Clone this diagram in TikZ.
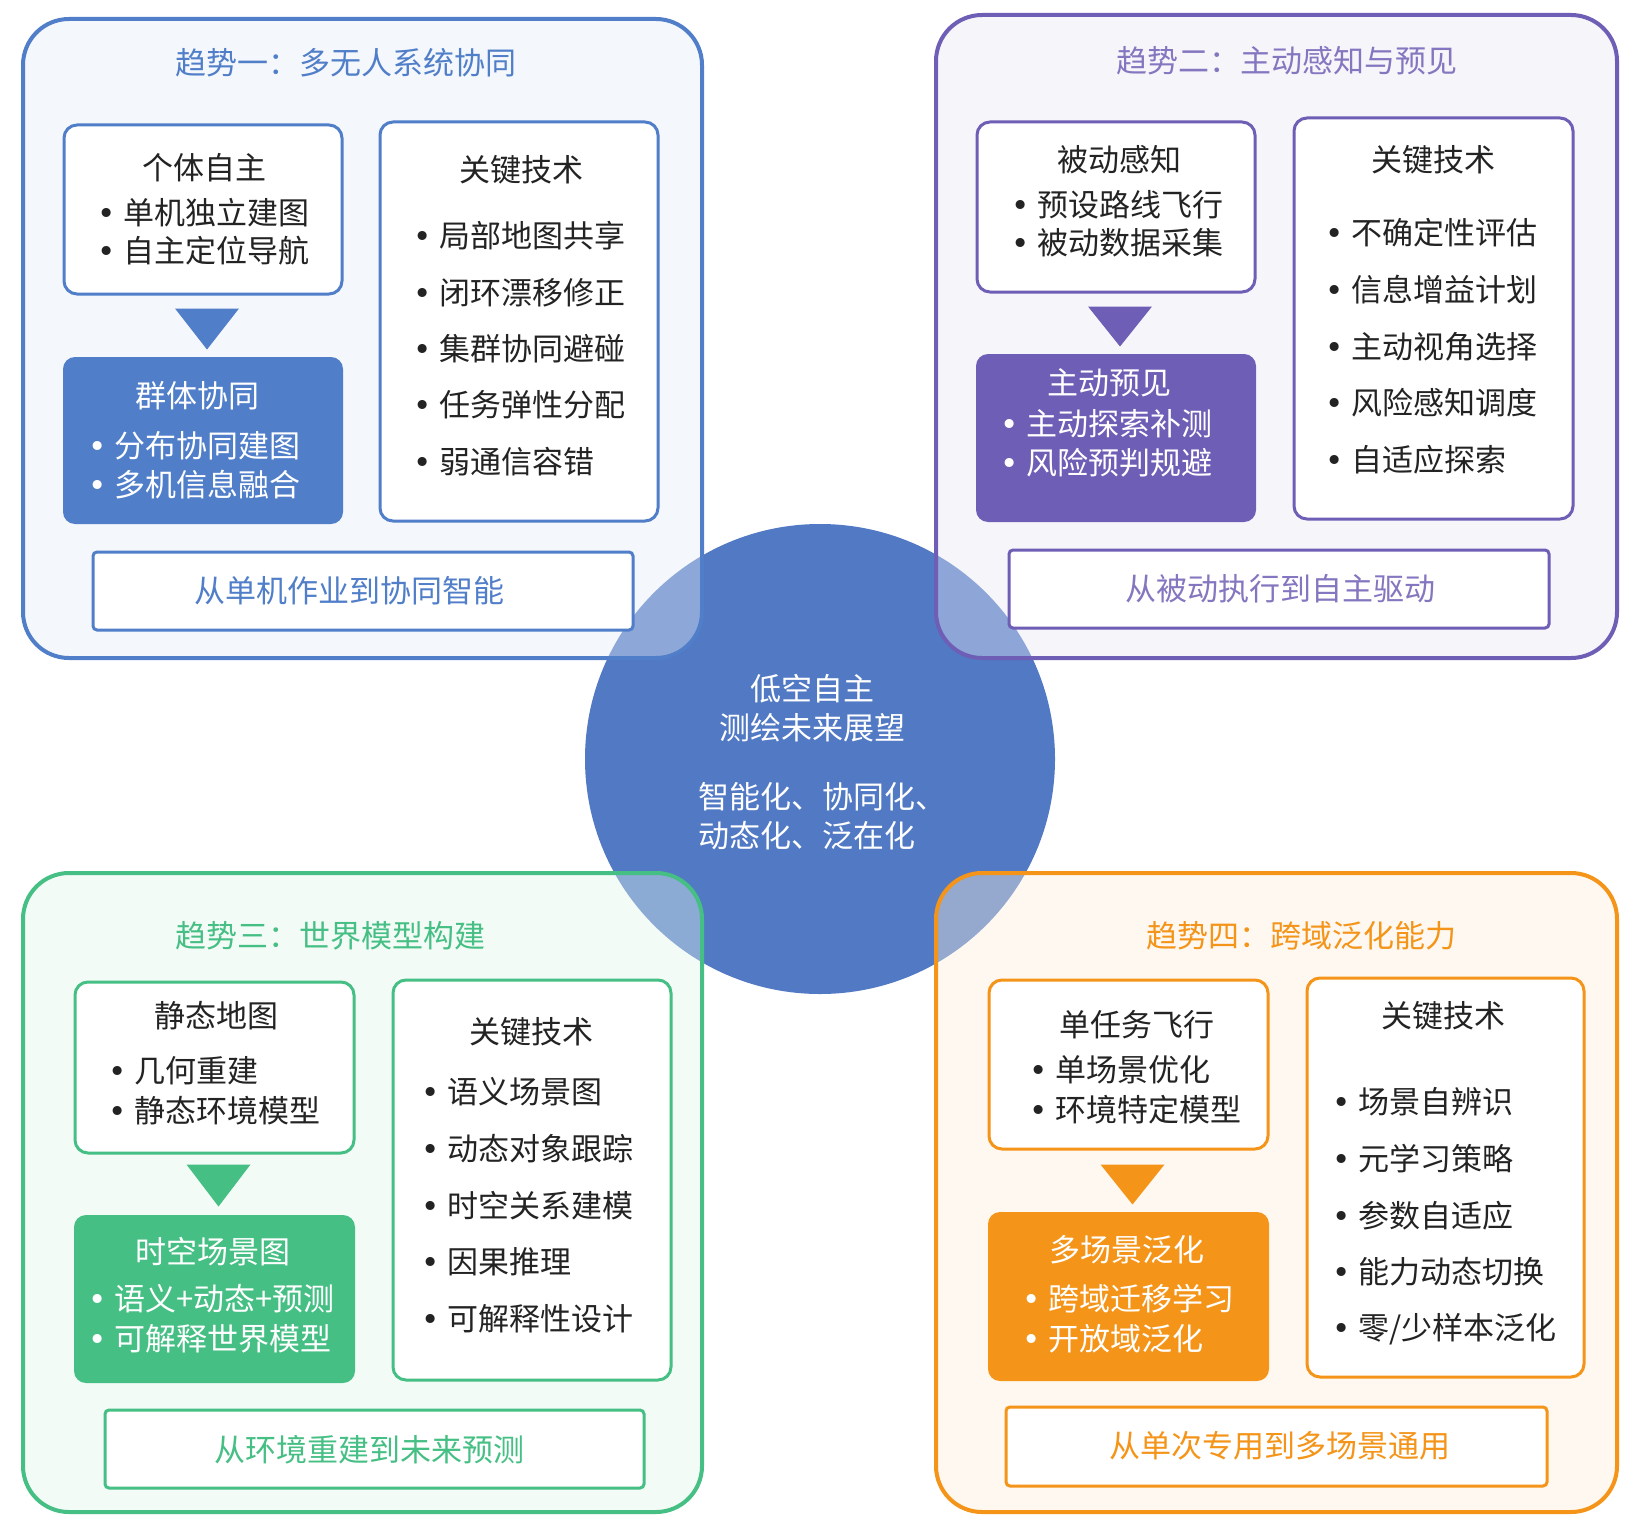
\documentclass[tikz,border=0pt]{standalone}
\usepackage{fontspec}
\setmainfont{Noto Sans CJK SC}
\newfontfamily\dotfont{DejaVu Sans}
\usepackage{xcolor}
\usepackage{tikz}
\usetikzlibrary{positioning, calc, fit}
\definecolor{trendblue}{RGB}{80,126,201}
\definecolor{trendpurple}{RGB}{111,94,181}
\definecolor{trendgreen}{RGB}{70,191,132}
\definecolor{trendorange}{RGB}{244,148,24}
\definecolor{hubblue}{RGB}{81,121,196}
\definecolor{inktext}{RGB}{35,35,35}
\tikzset{panel/.style={
    draw=#1,
    line width=4pt,
    rounded corners=46pt,
    fill=#1!15,
    fill opacity=0.4,
    inner sep=0pt
}}
\tikzset{lightbox/.style={
    draw=#1,
    line width=3pt,
    rounded corners=13pt,
    fill=white,
    inner sep=0pt
}}
\tikzset{darkbox/.style={
    fill=#1,
    rounded corners=12pt,
    inner sep=0pt
}}
\tikzset{words/.style={
    inner sep=0pt,
    text=inktext,
    font=\fontsize{31}{39}\selectfont
}}
\tikzset{item/.style={words, anchor=west}}
\newcommand{\itemdot}{\makebox[0pt]{\dotfont •}\hspace{17pt}}

\begin{document}
\begin{tikzpicture}[x=1pt, y=-1pt]
    \useasboundingbox (0,0) rectangle (1643,1538);
    \fill[white] (0,0) rectangle (1643,1538);
    % centre circle, under the four panels
    \node (hub) [circle, fill=hubblue, minimum size=470pt, inner sep=0pt] at (820,759) {};

    % trend one
    \node (P1) [panel=trendblue, fit={(23,19) (702,658)}] {};
    \node (T1) [words, text=trendblue] at (346,63) {趋势一：多无人系统协同};
    \node (A1) [lightbox=trendblue, fit={(64,125) (342,294)}] {};
    \node (A1h) [words] at (204,168) {个体自主};
    \foreach \t [count=\i] in {单机独立建图, 自主定位导航}
        \node (A1x\i) [item] at (106,{213+38*(\i-1)}) {\itemdot\t};
    \node (B1) [darkbox=trendblue, fit={(63,357) (343,524)}] {};
    \node (B1h) [words, text=white] at (197,396) {群体协同};
    \foreach \t [count=\i] in {分布协同建图, 多机信息融合}
        \node (B1x\i) [item, text=white] at (97,{446+39*(\i-1)}) {\itemdot\t};
    \fill[trendblue] ($(A1.south)+(-28,13)$) -- ++(64,0) -- ++(-32,41) -- cycle;
    \node (K1) [lightbox=trendblue, fit={(380,122) (658,521)}] {};
    \node (K1h) [words] at (521,170) {关键技术};
    \foreach \t [count=\i] in {局部地图共享, 闭环漂移修正, 集群协同避碰, 任务弹性分配, 弱通信容错}
        \node (K1x\i) [item] at (422,{236+56.3*(\i-1)}) {\itemdot\t};
    \node (S1) [lightbox=trendblue, rounded corners=4pt, fit={(93,552) (633,630)}] {};
    \node (S1t) [words, text=trendblue] at (349,591) {从单机作业到协同智能};

    % trend two
    \node (P2) [panel=trendpurple, fit={(936,15) (1617,658)}] {};
    \node (T2) [words, text=trendpurple!85!white] at (1287,61) {趋势二：主动感知与预见};
    \node (A2) [lightbox=trendpurple, fit={(977,122) (1255,292)}] {};
    \node (A2h) [words] at (1119,160) {被动感知};
    \foreach \t [count=\i] in {预设路线飞行, 被动数据采集}
        \node (A2x\i) [item] at (1020,{205+38*(\i-1)}) {\itemdot\t};
    \node (B2) [darkbox=trendpurple, fit={(976,354) (1256,522)}] {};
    \node (B2h) [words, text=white] at (1109,383) {主动预见};
    \foreach \t [count=\i] in {主动探索补测, 风险预判规避}
        \node (B2x\i) [item, text=white] at (1009,{424+39*(\i-1)}) {\itemdot\t};
    \fill[trendpurple] ($(A2.south)+(-28,13)$) -- ++(64,0) -- ++(-32,40) -- cycle;
    \node (K2) [lightbox=trendpurple, fit={(1294,118) (1573,519)}] {};
    \node (K2h) [words] at (1433,160) {关键技术};
    \foreach \t [count=\i] in {不确定性评估, 信息增益计划, 主动视角选择, 风险感知调度, 自适应探索}
        \node (K2x\i) [item] at (1334,{233+56.7*(\i-1)}) {\itemdot\t};
    \node (S2) [lightbox=trendpurple, rounded corners=4pt, fit={(1009,550) (1549,628)}] {};
    \node (S2t) [words, text=trendpurple!85!white] at (1280,589) {从被动执行到自主驱动};

    % trend three
    \node (P3) [panel=trendgreen, fit={(23,873) (702,1512)}] {};
    \node (T3) [words, text=trendgreen] at (330,936) {趋势三：世界模型构建};
    \node (A3) [lightbox=trendgreen, fit={(75,982) (354,1153)}] {};
    \node (A3h) [words] at (216,1016) {静态地图};
    \foreach \t [count=\i] in {几何重建, 静态环境模型}
        \node (A3x\i) [item] at (117,{1071+40*(\i-1)}) {\itemdot\t};
    \node (B3) [darkbox=trendgreen, fit={(74,1215) (355,1383)}] {};
    \node (B3h) [words, text=white] at (213,1252) {时空场景图};
    \foreach \t [count=\i] in {语义+动态+预测, 可解释世界模型}
        \node (B3x\i) [item, text=white] at (97,{1299+40*(\i-1)}) {\itemdot\t};
    \fill[trendgreen] ($(A3.south)+(-28,10)$) -- ++(64,0) -- ++(-32,42) -- cycle;
    \node (K3) [lightbox=trendgreen, fit={(393,980) (671,1380)}] {};
    \node (K3h) [words] at (531,1032) {关键技术};
    \foreach \t [count=\i] in {语义场景图, 动态对象跟踪, 时空关系建模, 因果推理, 可解释性设计}
        \node (K3x\i) [item] at (430,{1092+56.7*(\i-1)}) {\itemdot\t};
    \node (S3) [lightbox=trendgreen, rounded corners=4pt, fit={(105,1410) (644,1488)}] {};
    \node (S3t) [words, text=trendgreen] at (369,1450) {从环境重建到未来预测};

    % trend four
    \node (P4) [panel=trendorange, fit={(936,873) (1617,1512)}] {};
    \node (T4) [words, text=trendorange] at (1301,936) {趋势四：跨域泛化能力};
    \node (A4) [lightbox=trendorange, fit={(989,980) (1268,1149)}] {};
    \node (A4h) [words] at (1137,1025) {单任务飞行};
    \foreach \t [count=\i] in {单场景优化, 环境特定模型}
        \node (A4x\i) [item] at (1038,{1070+40*(\i-1)}) {\itemdot\t};
    \node (B4) [darkbox=trendorange, fit={(988,1212) (1269,1381)}] {};
    \node (B4h) [words, text=white] at (1127,1250) {多场景泛化};
    \foreach \t [count=\i] in {跨域迁移学习, 开放域泛化}
        \node (B4x\i) [item, text=white] at (1031,{1299+40*(\i-1)}) {\itemdot\t};
    \fill[trendorange] ($(A4.south)+(-28,14)$) -- ++(64,0) -- ++(-32,40) -- cycle;
    \node (K4) [lightbox=trendorange, fit={(1307,978) (1584,1377)}] {};
    \node (K4h) [words] at (1443,1016) {关键技术};
    \foreach \t [count=\i] in {场景自辨识, 元学习策略, 参数自适应, 能力动态切换, 零/少样本泛化}
        \node (K4x\i) [item] at (1341,{1102+56.7*(\i-1)}) {\itemdot\t};
    \node (S4) [lightbox=trendorange, rounded corners=4pt, fit={(1006,1407) (1547,1486)}] {};
    \node (S4t) [words, text=trendorange] at (1280,1446) {从单次专用到多场景通用};

    % centre texts
    \node (hubT) [words, text=white, align=center] at (812,708) {低空自主\\测绘未来展望};
    \node (hubB) [words, text=white, align=left] at (822,816) {智能化、协同化、\\动态化、泛在化};
\end{tikzpicture}
\end{document}
